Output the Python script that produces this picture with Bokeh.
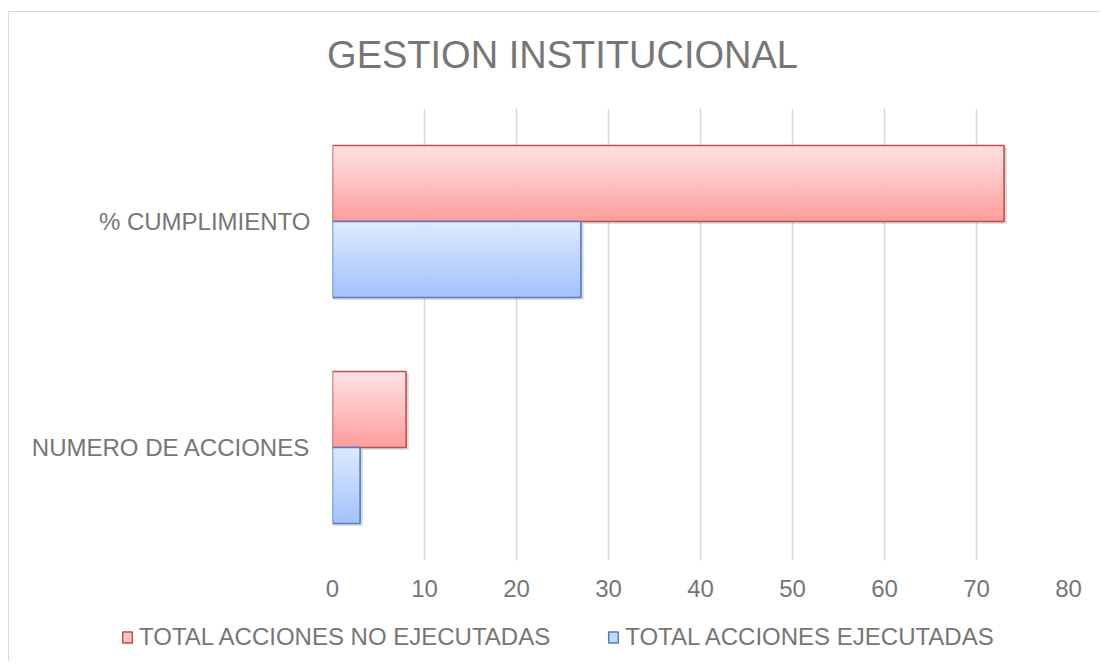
from bokeh.plotting import figure
from bokeh.layouts import column
from bokeh.models import Range1d, FactorRange, Legend, LegendItem, FixedTicker, ColumnDataSource, Label
from bokeh.transform import dodge
from bokeh.embed import file_html
from bokeh.resources import INLINE

# ---- data ----
title_text = "GESTION INSTITUCIONAL"
categories = ["NUMERO DE ACCIONES", "% CUMPLIMIENTO"]  # bottom to top
no_ejecutadas = [8, 73]
ejecutadas = [3, 27]
series_names = ["TOTAL ACCIONES NO EJECUTADAS", "TOTAL ACCIONES EJECUTADAS"]
x_ticks = [0, 10, 20, 30, 40, 50, 60, 70, 80]

FONT = "Liberation Sans"
TXT = "#767676"
W = 1091


def bare(h):
    f = figure(width=W, height=h, x_range=Range1d(0, 1), y_range=Range1d(0, 1),
               output_backend="svg", toolbar_location=None,
               x_axis_location=None, y_axis_location=None,
               min_border=0, min_border_left=0, min_border_right=0,
               min_border_top=0, min_border_bottom=0)
    f.outline_line_color = None
    f.grid.visible = False
    f.frame_align = False
    return f


# ---- title strip ----
tfig = bare(70)
tfig.add_layout(Label(x=553, y=28, x_units="screen", y_units="screen",
                      text=title_text, text_font=FONT, text_font_size="38px",
                      text_color=TXT, text_align="center", text_baseline="middle"))

# ---- main chart ----
p = figure(width=W, height=531, y_range=FactorRange(*categories),
           x_range=Range1d(0, 80), output_backend="svg", toolbar_location=None,
           min_border_left=323, min_border_right=32, min_border_top=26,
           min_border_bottom=53)
p.outline_line_color = None
p.frame_align = False

p.xaxis.ticker = FixedTicker(ticks=x_ticks)
p.xgrid.ticker = FixedTicker(ticks=x_ticks)
p.xgrid.grid_line_color = "#d9d9d9"
p.xgrid.grid_line_width = 1.5
p.ygrid.grid_line_color = None
for ax in (p.xaxis[0], p.yaxis[0]):
    ax.axis_line_color = None
    ax.major_tick_line_color = None
    ax.minor_tick_line_color = None
    ax.major_tick_out = 0
    ax.major_tick_in = 0
    ax.major_label_text_font = FONT
    ax.major_label_text_font_size = "24px"
    ax.major_label_text_color = TXT
p.xaxis.major_label_standoff = 19
p.yaxis.major_label_standoff = 22

BAR_H = 0.336
N = 38


def interp(c1, c2, t):
    return "#%02x%02x%02x" % tuple(round(a + (b - a) * t) for a, b in zip(c1, c2))


source = ColumnDataSource({"cat": categories, "no": no_ejecutadas, "si": ejecutadas})
cols = ["no", "si"]
styles = [
    (+BAR_H / 2, (255, 226, 226), (255, 156, 156), "#c0504d", "#ffc6c6"),
    (-BAR_H / 2, (222, 233, 255), (160, 194, 255), "#4f81bd", "#c6d8ff"),
]

# soft shadows
for (off, ctop, cbot, line, mid), col in zip(styles, cols):
    p.hbar(y=dodge("cat", off - 0.01, range=p.y_range), left=0,
           right=dodge(col, 0.3), height=BAR_H, source=source,
           fill_color="#000000", fill_alpha=0.15, line_color=None)

for (off, ctop, cbot, line, mid), col in zip(styles, cols):
    for i in range(N):
        t = i / (N - 1)
        c = interp(ctop, cbot, t)
        yoff = off + BAR_H / 2 - (i + 0.5) * BAR_H / N
        p.hbar(y=dodge("cat", yoff, range=p.y_range), left=0, right=col,
               height=BAR_H / N * 1.15, source=source,
               fill_color=c, line_color=None)
    p.hbar(y=dodge("cat", off, range=p.y_range), left=0, right=col,
           height=BAR_H, source=source, fill_color=None,
           line_color=line, line_width=1.6)

# ---- legend strip ----
lfig = bare(48)
items = []
for (off, ctop, cbot, line, mid), name in zip(styles, series_names):
    # a hidden sample renderer that only provides the legend swatch style
    r = lfig.hbar(y=[0.5], left=[-3], right=[-2], height=0.1, fill_color=mid,
                  line_color=line, line_width=1.5, visible=False)
    items.append(LegendItem(label=name, renderers=[r]))
legend = Legend(items=items, orientation="horizontal", location=(112, 10),
                label_text_font=FONT, label_text_font_size="24px",
                label_text_color=TXT, glyph_width=12, glyph_height=14,
                label_height=24, label_standoff=6, spacing=57, padding=0,
                margin=0, border_line_color=None, background_fill_alpha=0)
lfig.add_layout(legend, "center")

layout = column(tfig, p, lfig, spacing=0)
layout.styles = {"border-left": "1px solid #d9d9d9", "border-top": "1px solid #d9d9d9",
                 "margin-top": "11px", "margin-left": "8px"}

open("out.html", "w").write(file_html(layout, INLINE))
